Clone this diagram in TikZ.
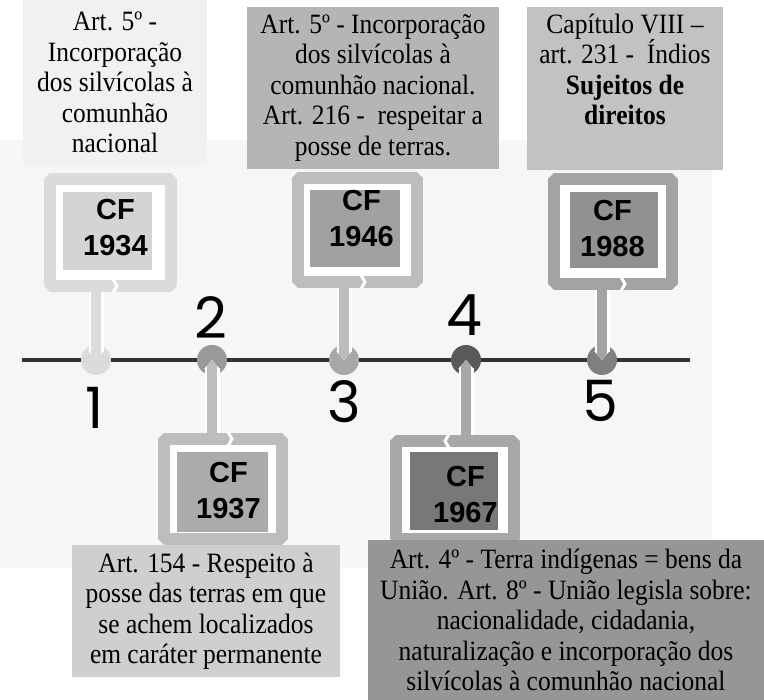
\documentclass[tikz,border=0pt]{standalone}
\usepackage{fontspec}
\setmainfont{Liberation Serif}[FakeStretch=0.91]
\newfontfamily\cffont{Liberation Sans}
\newfontfamily\numfont{Poppins}
\usetikzlibrary{shapes.misc,arrows.meta}

\definecolor{bgpanel}{gray}{0.965}
\definecolor{axisline}{gray}{0.2}
\definecolor{txtA}{gray}{0.945}
\definecolor{txtB}{gray}{0.71}
\definecolor{txtC}{gray}{0.76}
\definecolor{txtD}{gray}{0.81}
\definecolor{txtE}{gray}{0.59}
\definecolor{dotA}{gray}{0.86}
\definecolor{dotB}{gray}{0.6}
\definecolor{dotC}{gray}{0.66}
\definecolor{dotD}{gray}{0.35}
\definecolor{dotE}{gray}{0.5}
\definecolor{frmA}{gray}{0.86}
\definecolor{frmB}{gray}{0.74}
\definecolor{frmC}{gray}{0.74}
\definecolor{frmD}{gray}{0.64}
\definecolor{frmE}{gray}{0.66}
\definecolor{boxA}{gray}{0.83}
\definecolor{boxB}{gray}{0.63}
\definecolor{boxC}{gray}{0.67}
\definecolor{boxD}{gray}{0.47}
\definecolor{boxE}{gray}{0.57}

\begin{document}
\begin{tikzpicture}[x=1pt, y=-1pt,
    textbox/.style={fill=#1, inner sep=0pt, align=center,
      font=\fontsize{28}{30.5}\selectfont},
    cfframe/.style={chamfered rectangle, chamfered rectangle xsep=12pt,
      chamfered rectangle ysep=12pt, draw=#1, fill=white, line width=12pt,
      line join=bevel, inner sep=0pt},
    cfbox/.style={fill=#1, inner sep=0pt},
    cflabel/.style={align=center, inner sep=0pt,
      font=\cffont\bfseries\fontsize{29}{36}\selectfont},
    yeardot/.style={circle, fill=#1, minimum size=30pt, inner sep=0pt},
    cfstem/.style={draw=#1, line width=10pt,
      -{Triangle[width=0pt 1, length=0pt 0.6]},
      preaction={draw=white, line width=15pt}},
    framegap/.style={draw=white, line width=3pt},
    bignum/.style={inner sep=0pt, font=\numfont\fontsize{57}{57}\selectfont}]
    \useasboundingbox (0,0) rectangle (764,700);
    \fill[bgpanel] (0,140) rectangle (712,568);

    % the line of time
    \coordinate (tl) at (22,360);
    \coordinate (tr) at (690,360);
    \draw[axisline, line width=4pt] (tl) -- (tr);
    \node[yeardot=dotA] (d1) at (96,360) {};
    \node[yeardot=dotB] (d2) at (212,360) {};
    \node[yeardot=dotC] (d3) at (344,360) {};
    \node[yeardot=dotD] (d4) at (466,360) {};
    \node[yeardot=dotE] (d5) at (602,360) {};

    % frames round the constitutions
    \node[cfframe=frmA, minimum width=121pt, minimum height=107pt] (f1934) at (110.5,232.5) {};
    \node[cfframe=frmB, minimum width=119pt, minimum height=104pt] (f1946) at (357.5,230) {};
    \node[cfframe=frmD, minimum width=118pt, minimum height=105pt] (f1988) at (613,231.5) {};
    \node[cfframe=frmC, minimum width=118pt, minimum height=100pt] (f1937) at (223,489) {};
    \node[cfframe=frmE, minimum width=118pt, minimum height=98pt] (f1967) at (455,490) {};

    \draw[cfstem=frmA] (d1 |- f1934.south) -- (d1.center);
    \draw[cfstem=frmB] (d3 |- f1946.south) -- (d3.center);
    \draw[cfstem=frmD] (d5 |- f1988.south) -- (d5.center);
    \draw[cfstem=frmC] (d2 |- f1937.north) -- (d2.center);
    \draw[cfstem=frmE] (d4 |- f1967.north) -- (d4.center);

    \draw[framegap] (113,279) -- (117,286) -- (113,293);
    \draw[framegap] (361,275) -- (365,282) -- (361,289);
    \draw[framegap] (621,277) -- (625,284) -- (621,291);
    \draw[framegap] (228,432) -- (232,439) -- (228,446);
    \draw[framegap] (449,434) -- (445,441) -- (449,448);

    \node[cfbox=boxA, minimum width=89pt, minimum height=78pt] (c1934) at (107.5,231) {};
    \node[cfbox=boxB, minimum width=90pt, minimum height=77pt] (c1946) at (355,228.5) {};
    \node[cfbox=boxE, minimum width=88pt, minimum height=76pt] (c1988) at (614,230) {};
    \node[cfbox=boxC, minimum width=91pt, minimum height=80pt] (c1937) at (222.5,492) {};
    \node[cfbox=boxD, minimum width=88pt, minimum height=78pt] (c1967) at (454,491) {};
    \node[cflabel] (l1934) at (115.5,227.5) {CF\\1934};
    \node[cflabel] (l1946) at (361.5,219) {CF\\1946};
    \node[cflabel] (l1988) at (612.5,229) {CF\\1988};
    \node[cflabel] (l1937) at (228.5,490.5) {CF\\1937};
    \node[cflabel] (l1967) at (465.5,494.5) {CF\\1967};

    \node[bignum] (n1) at (95,408) {1};
    \node[bignum] (n2) at (211,318) {2};
    \node[bignum] (n3) at (344,402) {3};
    \node[bignum] (n4) at (464,315) {4};
    \node[bignum] (n5) at (600,401) {5};

    % the articles
    \node[textbox=txtA, minimum width=184pt, minimum height=165pt] (t1934) at (115,82.5)
      {Art. 5º -\\Incorporação\\dos silvícolas à\\comunhão\\nacional};
    \node[textbox=txtB, minimum width=252pt, minimum height=162pt] (t1946) at (373,88)
      {Art. 5º - Incorporação\\dos silvícolas à\\comunhão nacional.\\Art. 216 -\ \ respeitar a\\posse de terras.};
    \node[textbox=txtC, minimum width=196pt, minimum height=163pt, text depth=38pt] (t1988) at (625,88.5)
      {Capítulo VIII –\\art. 231 -\ \ Índios\\\textbf{Sujeitos de}\\\textbf{direitos}};
    \node[textbox=txtD, minimum width=268pt, minimum height=132pt] (t1937) at (206,611)
      {Art. 154 - Respeito à\\posse das terras em que\\se achem localizados\\em caráter permanente};
    \node[textbox=txtE, minimum width=396pt, minimum height=160pt] (t1967) at (566,620)
      {Art. 4º - Terra indígenas = bens da\\União. Art. 8º - União legisla sobre:\\nacionalidade, cidadania,\\naturalização e incorporação dos\\silvícolas à comunhão nacional};
\end{tikzpicture}
\end{document}
